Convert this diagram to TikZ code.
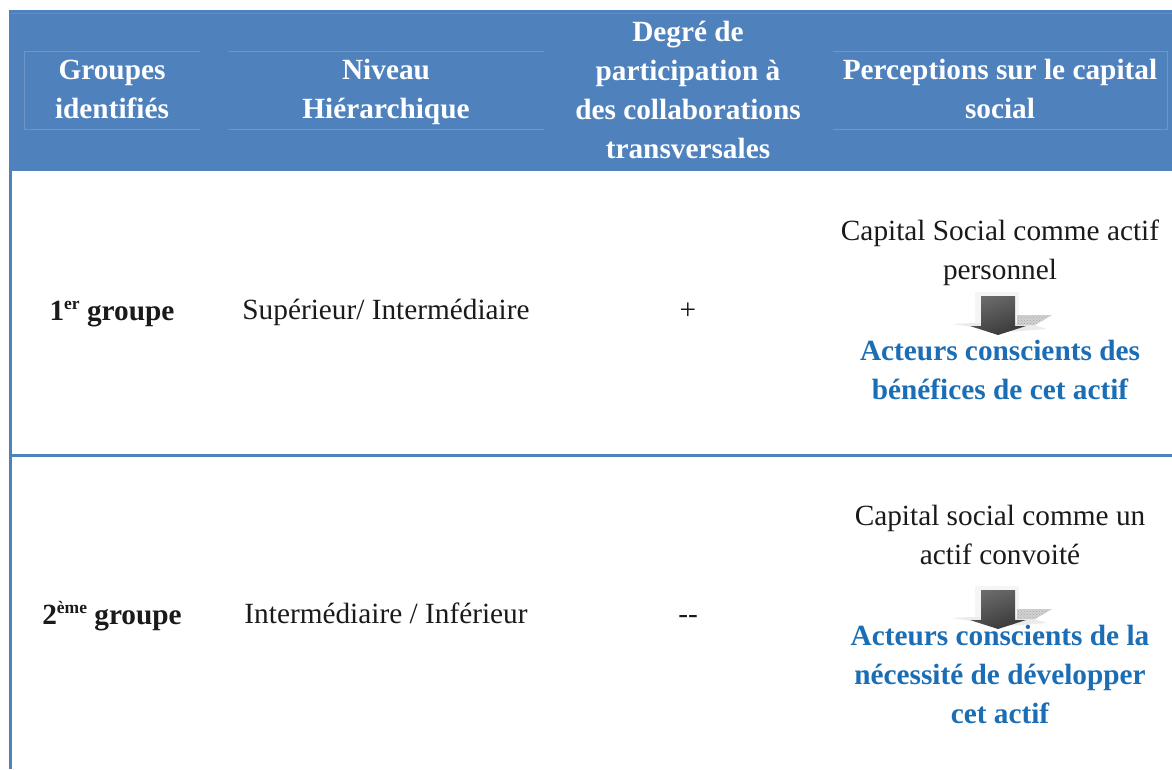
\documentclass[tikz,border=0pt]{standalone}
\usepackage{fontspec}
\setmainfont{Liberation Serif}
\usetikzlibrary{patterns}
\definecolor{hdr}{HTML}{4F81BD}
\definecolor{hdrline}{HTML}{6E97C9}
\definecolor{acteur}{HTML}{1B6EB5}
\definecolor{ink}{HTML}{1A1A1A}
\newcommand{\supsm}[1]{\raisebox{10.5pt}{\fontsize{17.5}{20}\bfseries\selectfont #1}}
\tikzset{
  x=1pt,y=-1pt,
  txt/.style={anchor=base,inner sep=0pt,outer sep=0pt,font=\fontsize{29.3}{34}\selectfont,text=ink},
  head/.style={txt,font=\fontsize{29.3}{34}\bfseries\selectfont,text=white},
  bold/.style={txt,font=\fontsize{29.3}{34}\bfseries\selectfont},
  act/.style={txt,font=\fontsize{29.3}{34}\bfseries\selectfont,text=acteur},
  hline/.style={draw=hdrline,line width=0.7pt},
  pics/downarrow/.style={code={
    \fill[black!4] (-22,-4) rectangle (22,28);
    \fill[black!8] (-45,28) -- (-26,27) -- (30,27) -- (50,33) -- (10,36) -- cycle;
    \fill[black!18] (20,19) -- (55,19) -- (38,29) -- (20,29) -- cycle;
    \path[pattern=crosshatch dots,pattern color=black!35] (20,19) -- (55,19) -- (38,29) -- (20,29) -- cycle;
    \path[top color=black!58,bottom color=black!78,shading angle=20]
      (-16,0) -- (18,0) -- (18,30) -- (29,30) -- (1,39) -- (-27,30) -- (-16,30) -- cycle;
  }}
}
\begin{document}
\begin{tikzpicture}
\useasboundingbox (0,0) rectangle (1172,769);
\fill[white] (0,0) rectangle (1172,769);
% table frame
\fill[hdr] (9,10) rectangle (1172,171);
\fill[hdr] (9,171) rectangle (12,769);
\fill[hdr] (12,453.5) rectangle (1172,456.5);
% inner header lines
\draw[hline,draw opacity=.5] (11,13.5) -- (1172,13.5);
\draw[hline] (200,51.5) -- (24.5,51.5) -- (24.5,129.5) -- (200,129.5);
\draw[hline] (228,51.5) -- (544,51.5) (228,129.5) -- (544,129.5);
\draw[hline] (833,51.5) -- (1167,51.5) -- (1167,129.5) -- (833,129.5);
% header text
\node[head] (h1a) at (112,79) {Groupes};
\node[head] (h1b) at (112,118) {identifiés};
\node[head] (h2a) at (386,79) {Niveau};
\node[head] (h2b) at (386,118) {Hiérarchique};
\node[head] (h3a) at (688,41) {Degré de};
\node[head] (h3b) at (688,80) {participation à};
\node[head] (h3c) at (688,119) {des collaborations};
\node[head] (h3d) at (688,158) {transversales};
\node[head] (h4a) at (1000,79) {Perceptions sur le capital};
\node[head] (h4b) at (1000,118) {social};
% arrows
\pic at (997,296) {downarrow};
\pic at (997,590) {downarrow};
% row 1
\node[bold] (r1a) at (112,320) {1\supsm{er} groupe};
\node[txt] (r1b) at (386,319) {Supérieur/ Intermédiaire};
\node[txt] (r1c) at (688,319) {+};
\node[txt] (r1d) at (1000,240) {Capital Social comme actif};
\node[txt] (r1e) at (1000,279) {personnel};
\node[act] (r1f) at (1000,360) {Acteurs conscients des};
\node[act] (r1g) at (1000,399) {bénéfices de cet actif};
% row 2
\node[bold] (r2a) at (112,624) {2\supsm{ème} groupe};
\node[txt] (r2b) at (386,623) {Intermédiaire / Inférieur};
\node[txt] (r2c) at (688,623) {-{}-};
\node[txt] (r2d) at (1000,525) {Capital social comme un};
\node[txt] (r2e) at (1000,564) {actif convoité};
\node[act] (r2f) at (1000,645) {Acteurs conscients de la};
\node[act] (r2g) at (1000,684) {nécessité de développer};
\node[act] (r2h) at (1000,723) {cet actif};
\end{tikzpicture}
\end{document}
